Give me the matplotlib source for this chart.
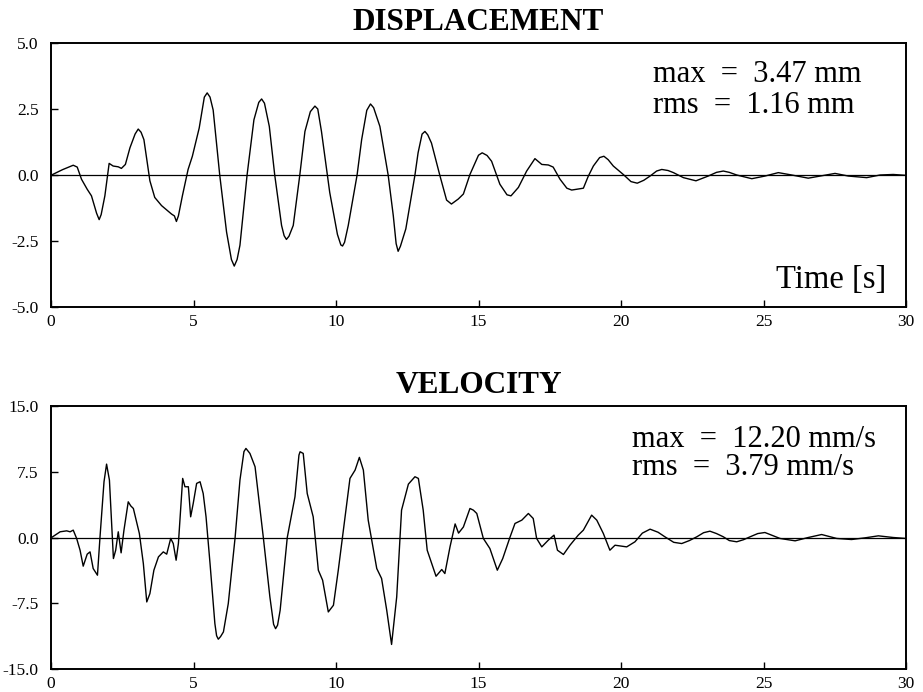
"""
Zeitverlauf Verschiebung / Geschwindigkeit (2 Panels, gemeinsame Zeitachse 0-30 s)
"""

import numpy as np
import matplotlib.pyplot as plt

# ===================== DATA =====================
# Verschiebung [mm]
T_DISP = [0.02, 0.40, 0.78, 0.92, 1.07, 1.27, 1.42, 1.60, 1.69, 1.76, 1.89, 2.04, 2.18, 2.36,
          2.47, 2.61, 2.77, 2.95, 3.06, 3.16, 3.26, 3.47, 3.64, 3.88, 4.23, 4.33, 4.40, 4.47,
          4.61, 4.81, 4.96, 5.20, 5.38, 5.48, 5.58, 5.69, 5.92, 6.16, 6.33, 6.43, 6.53, 6.63,
          6.88, 7.12, 7.29, 7.39, 7.49, 7.66, 7.85, 8.09, 8.18, 8.26, 8.35, 8.50, 8.73, 8.91,
          9.10, 9.26, 9.36, 9.49, 9.78, 10.05, 10.17, 10.23, 10.30, 10.43, 10.74, 10.90, 11.08,
          11.21, 11.32, 11.54, 11.83, 12.01, 12.11, 12.18, 12.26, 12.45, 12.77, 12.88, 13.02,
          13.12, 13.22, 13.35, 13.64, 13.88, 14.05, 14.29, 14.47, 14.70, 15.00, 15.13, 15.30,
          15.46, 15.75, 16.00, 16.14, 16.40, 16.69, 16.98, 17.22, 17.45, 17.62, 17.86, 18.10,
          18.27, 18.68, 18.85, 19.03, 19.25, 19.40, 19.55, 19.73, 20.08, 20.35, 20.57, 20.80,
          21.02, 21.25, 21.43, 21.65, 21.84, 22.19, 22.63, 23.06, 23.35, 23.59, 23.80, 24.06,
          24.59, 25.05, 25.52, 25.99, 26.57, 26.98, 27.51, 27.98, 28.62, 29.09, 29.55, 29.96]
DISP = [0.0, 0.20, 0.37, 0.30, -0.16, -0.54, -0.79, -1.45, -1.69, -1.50, -0.79, 0.44, 0.34, 0.31,
        0.25, 0.40, 1.03, 1.55, 1.74, 1.62, 1.34, -0.22, -0.85, -1.16, -1.48, -1.55, -1.76, -1.55,
        -0.79, 0.21, 0.71, 1.78, 2.95, 3.11, 2.95, 2.46, 0.0, -2.16, -3.20, -3.45, -3.20, -2.66,
        0.0, 2.09, 2.75, 2.88, 2.72, 1.84, 0.0, -1.91, -2.30, -2.44, -2.32, -1.91, 0.0, 1.65,
        2.40, 2.61, 2.50, 1.65, -0.66, -2.25, -2.65, -2.69, -2.55, -1.91, 0.0, 1.34, 2.45,
        2.69, 2.55, 1.84, 0.0, -1.54, -2.60, -2.89, -2.70, -2.04, 0.0, 0.84, 1.55,
        1.65, 1.52, 1.21, 0.0, -0.95, -1.10, -0.91, -0.72, 0.02, 0.75, 0.84, 0.74,
        0.52, -0.35, -0.75, -0.79, -0.47, 0.15, 0.62, 0.40, 0.38, 0.30, -0.16, -0.50,
        -0.57, -0.50, -0.05, 0.34, 0.66, 0.71, 0.58, 0.34, 0.02, -0.25, -0.31, -0.20,
        -0.04, 0.15, 0.21, 0.17, 0.09, -0.10, -0.22, -0.04, 0.10, 0.15, 0.10, 0.0,
        -0.14, -0.04, 0.09, 0.0, -0.12, -0.04, 0.06, -0.04, -0.10, 0.0, 0.02, -0.01]

# Geschwindigkeit [mm/s]
T_VEL = [0.02, 0.32, 0.55, 0.67, 0.78, 0.90, 1.02, 1.13, 1.27, 1.37, 1.48, 1.63, 1.72, 1.86,
         1.95, 2.05, 2.19, 2.27, 2.36, 2.46, 2.56, 2.71, 2.80, 2.89, 3.10, 3.24, 3.36, 3.47,
         3.61, 3.77, 3.94, 4.06, 4.20, 4.29, 4.39, 4.47, 4.62, 4.70, 4.82, 4.90, 4.99, 5.11,
         5.23, 5.34, 5.44, 5.58, 5.75, 5.81, 5.87, 5.95, 6.05, 6.22, 6.46, 6.63, 6.77, 6.84,
         6.98, 7.16, 7.45, 7.68, 7.81, 7.88, 7.95, 8.04, 8.29, 8.56, 8.70, 8.74, 8.85, 8.99,
         9.20, 9.38, 9.53, 9.73, 9.91, 10.08, 10.26, 10.49, 10.67, 10.82, 10.96, 11.13, 11.43,
         11.60, 11.78, 11.95, 12.13, 12.30, 12.54, 12.77, 12.89, 13.06, 13.20, 13.36, 13.51,
         13.71, 13.82, 14.00, 14.18, 14.30, 14.47, 14.70, 14.82, 14.94, 15.17, 15.40, 15.66,
         15.85, 16.11, 16.28, 16.52, 16.75, 16.92, 17.04, 17.22, 17.45, 17.65, 17.77, 17.98,
         18.21, 18.50, 18.68, 18.97, 19.15, 19.38, 19.61, 19.79, 20.20, 20.49, 20.75, 21.02,
         21.30, 21.54, 21.85, 22.13, 22.40, 22.66, 22.90, 23.12, 23.35, 23.59, 23.80, 24.06,
         24.30, 24.53, 24.80, 25.05, 25.30, 25.58, 26.11, 26.57, 27.04, 27.57, 28.09, 28.56,
         29.03, 29.55, 29.96]
VEL = [0.0, 0.65, 0.76, 0.65, 0.84, -0.11, -1.45, -3.27, -1.90, -1.64, -3.54, -4.30, 0.08, 6.36,
       8.37, 6.55, -2.40, -1.45, 0.65, -1.75, 0.84, 4.07, 3.60, 3.31, 0.46, -2.97, -7.35, -6.40,
       -3.73, -2.21, -1.64, -1.90, -0.11, -0.69, -2.59, -0.69, 6.74, 5.79, 5.79, 2.36, 3.88, 6.17,
       6.36, 5.02, 2.36, -2.97, -9.82, -11.20, -11.60, -11.30, -10.77, -7.54, 0.0, 6.55, 9.80, 10.16,
       9.59, 8.07, 0.0, -6.78, -9.90, -10.40, -10.00, -8.30, 0.0, 4.64, 9.40, 9.78, 9.59, 5.02,
       2.36, -3.73, -4.87, -8.49, -7.73, -3.73, 0.84, 6.74, 7.69, 9.14, 7.69, 1.98, -3.54,
       -4.68, -8.30, -12.20, -6.78, 3.12, 6.09, 6.93, 6.74, 3.12, -1.45, -2.97, -4.42,
       -3.65, -4.11, -1.07, 1.55, 0.50, 1.20, 3.31, 3.12, 2.74, -0.11, -1.26, -3.73,
       -2.40, 0.08, 1.60, 1.98, 2.74, 2.17, -0.11, -1.07, -0.30, 0.27, -1.45, -1.94,
       -0.88, 0.27, 0.84, 2.55, 1.98, 0.46, -1.45, -0.88, -1.07, -0.49, 0.50, 0.95,
       0.60, 0.08, -0.55, -0.69, -0.35, 0.08, 0.55, 0.72, 0.45, 0.08, -0.35, -0.49,
       -0.25, 0.08, 0.45, 0.57, 0.25, -0.11, -0.38, 0.0, 0.34, -0.11, -0.23, -0.04,
       0.19, 0.0, -0.10]

X_TICKS = [0, 5, 10, 15, 20, 25, 30]
DISP_TICKS = [-5.0, -2.5, 0.0, 2.5, 5.0]
VEL_TICKS = [-15.0, -7.5, 0.0, 7.5, 15.0]

DISP_TEXT = ["max  =  3.47 mm", "rms  =  1.16 mm"]
VEL_TEXT = ["max  =  12.20 mm/s", "rms  =  3.79 mm/s"]
# ===============================================

FONT = "Liberation Serif"
plt.rcParams["font.family"] = FONT
plt.rcParams["axes.unicode_minus"] = False

LINEWIDTH = 1.0
NOTE_SIZE = 22

fig = plt.figure(figsize=(9.23, 6.92), dpi=100)

# Achsenpositionen in Pixel (links, oben, rechts, unten) -> Figure-Koordinaten
W, H = 923, 692
def px_axes(left, top, right, bottom):
    return fig.add_axes([left / W, 1 - bottom / H, (right - left) / W, (bottom - top) / H])

ax_d = px_axes(51, 43, 906, 307)
ax_v = px_axes(51, 406, 906, 669)


def style_axes(ax, yticks, title):
    ax.set_xlim(0, 30)
    ax.set_ylim(yticks[0], yticks[-1])
    ax.set_xticks(X_TICKS)
    ax.set_yticks(yticks)
    ax.set_xticklabels([str(x) for x in X_TICKS])
    ax.set_yticklabels([f"{y:.1f}" for y in yticks])
    ax.tick_params(axis="both", direction="in", length=5, width=1.0, labelsize=12.5)
    ax.tick_params(axis="y", pad=9)
    ax.tick_params(axis="x", pad=5)
    for sp in ax.spines.values():
        sp.set_linewidth(1.4)
    ax.axhline(0, color="black", linewidth=0.9)
    ax.set_title(title, fontsize=22.5, fontweight="bold", pad=9)


# Verschiebung
ax_d.plot(T_DISP, DISP, color="black", linewidth=LINEWIDTH)
style_axes(ax_d, DISP_TICKS, "DISPLACEMENT")
ax_d.text(0.704, 0.854, DISP_TEXT[0], transform=ax_d.transAxes, fontsize=NOTE_SIZE, ha="left", va="baseline")
ax_d.text(0.704, 0.734, DISP_TEXT[1], transform=ax_d.transAxes, fontsize=NOTE_SIZE, ha="left", va="baseline")
ax_d.text(0.977, 0.071, "Time [s]", transform=ax_d.transAxes, fontsize=23.5, ha="right", va="baseline")

# Geschwindigkeit
ax_v.plot(T_VEL, VEL, color="black", linewidth=LINEWIDTH)
style_axes(ax_v, VEL_TICKS, "VELOCITY")
ax_v.text(0.68, 0.845, VEL_TEXT[0], transform=ax_v.transAxes, fontsize=NOTE_SIZE, ha="left", va="baseline")
ax_v.text(0.68, 0.738, VEL_TEXT[1], transform=ax_v.transAxes, fontsize=NOTE_SIZE, ha="left", va="baseline")

fig.savefig("out.png", dpi=100)
